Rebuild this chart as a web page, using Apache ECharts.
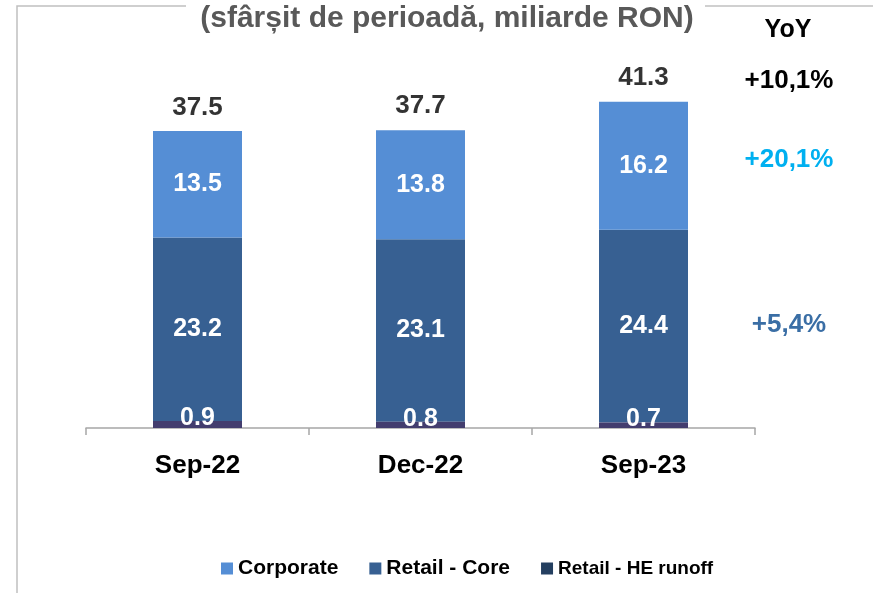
<!DOCTYPE html>
<html>
<head>
<meta charset="utf-8">
<script src="https://cdn.jsdelivr.net/npm/echarts@6/dist/echarts.min.js"></script>
<style>
  html, body { margin: 0; padding: 0; background: #fff; }
  #chart { width: 873px; height: 593px; }
</style>
</head>
<body>
<div id="chart"></div>
<script>
// data
var categories = ['Sep-22', 'Dec-22', 'Sep-23'];
var heRunoff = [0.9, 0.8, 0.7];
var retailCore = [23.2, 23.1, 24.4];
var corporate = [13.5, 13.8, 16.2];
var totals = [37.5, 37.7, 41.3];
var yoyLabels = ['+10,1%', '+20,1%', '+5,4%'];
var yoyColors = ['#000000', '#00b0f0', '#3a6ea5'];

var font = '"Liberation Sans", Arial, sans-serif';
var chart = echarts.init(document.getElementById('chart'));

var innerLabel = {
    show: true,
    position: 'inside',
    color: '#fff',
    fontSize: 25,
    fontWeight: 'bold',
    fontFamily: font
};

// yoy column + frame
var yoyY = [81, 160, 325];
var graphics = [
    { type: 'polyline', shape: { points: [[17, 593], [17, 6], [186, 6]] }, style: { stroke: '#c0c0c0', lineWidth: 1.5, fill: null } },
    { type: 'line', shape: { x1: 705, y1: 6, x2: 873, y2: 6 }, style: { stroke: '#c0c0c0', lineWidth: 1.5 } },
    { type: 'text', x: 447, y: 19, style: { text: '(sfârșit de perioadă, miliarde RON)', fill: '#595959', font: 'bold 30px ' + font, textAlign: 'center', textVerticalAlign: 'middle' } },
    { type: 'text', x: 788, y: 30, style: { text: 'YoY', fill: '#000', font: 'bold 25px ' + font, textAlign: 'center', textVerticalAlign: 'middle' } }
];
yoyLabels.forEach(function (t, i) {
    graphics.push({ type: 'text', x: 789, y: yoyY[i], style: { text: t, fill: yoyColors[i], font: 'bold 26px ' + font, textAlign: 'center', textVerticalAlign: 'middle' } });
});

var option = {
    backgroundColor: '#fff',
    animation: false,
    legend: {
        top: 553,
        left: 216,
        itemWidth: 12,
        itemHeight: 12,
        itemGap: 31,
        icon: 'rect',
        data: ['Corporate', 'Retail - Core', 'Retail - HE runoff'],
        textStyle: { color: '#000', fontSize: 21, fontWeight: 'bold', fontFamily: font }
    },
    grid: { left: 86, right: 118, top: 33, bottom: 165 },
    xAxis: {
        type: 'category',
        data: categories,
        axisLine: { lineStyle: { color: '#a6a6a6', width: 1.5 } },
        axisTick: { show: true, length: 7, lineStyle: { color: '#a6a6a6', width: 1.5 } },
        axisLabel: { color: '#000', fontSize: 26, fontWeight: 'bold', margin: 25, fontFamily: font }
    },
    yAxis: { type: 'value', min: 0, max: 50, show: false, splitLine: { show: false } },
    series: [
        {
            name: 'Retail - HE runoff', type: 'bar', stack: 'a', barWidth: 89, z: 3,
            data: heRunoff, itemStyle: { color: '#433d6e' },
            label: Object.assign({}, innerLabel, { offset: [0, -6] })
        },
        {
            name: 'Retail - Core', type: 'bar', stack: 'a', barWidth: 89,
            data: retailCore, itemStyle: { color: '#376092' }, label: innerLabel
        },
        {
            name: 'Corporate', type: 'bar', stack: 'a', barWidth: 89,
            data: corporate, itemStyle: { color: '#558ed5' }, label: innerLabel
        },
        {
            name: 'Total', type: 'scatter', symbolSize: 0, data: totals,
            label: { show: true, position: 'top', distance: 11, color: '#000', fontSize: 26, fontWeight: 'bold', fontFamily: font }
        }
    ],
    graphic: graphics
};
option.legend.data = option.legend.data.map(function (n) {
    return n === 'Retail - HE runoff'
        ? { name: n, itemStyle: { color: '#243f60' }, textStyle: { fontSize: 19 } }
        : { name: n };
});
chart.setOption(option);
</script>
</body>
</html>
